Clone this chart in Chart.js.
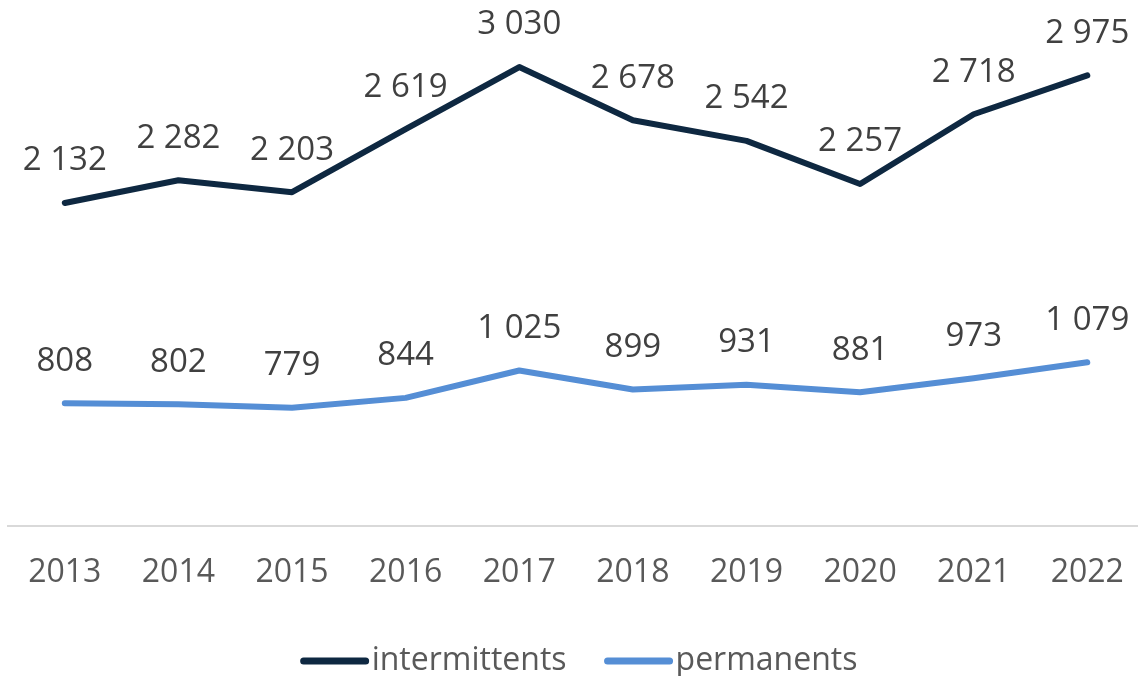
<!DOCTYPE html>
<html>
<head>
<meta charset="utf-8">
<script src="https://cdn.jsdelivr.net/npm/chart.js@4.4.1/dist/chart.umd.min.js"></script>
<style>
  html, body { margin: 0; padding: 0; background: #ffffff; overflow: hidden; }
  #wrap { width: 1152px; height: 676px; }
</style>
</head>
<body>
<div id="wrap"><canvas id="chart"></canvas></div>
<script>
// data
const years         = ['2013', '2014', '2015', '2016', '2017', '2018', '2019', '2020', '2021', '2022'];
const intermittents = [2132, 2282, 2203, 2619, 3030, 2678, 2542, 2257, 2718, 2975];
const permanents    = [808, 802, 779, 844, 1025, 899, 931, 881, 973, 1079];
const seriesNames   = ['intermittents', 'permanents'];

// colors
const navy      = '#0E2841';
const lightBlue = '#558ED5';
const tickColor = '#595959';
const labelColor = '#404040';
const axisColor = '#D9D9D9';

const font = 'Open Sans';

function fmt(v) {
    return String(v).replace(/\B(?=(\d{3})+(?!\d))/g, ' ');
}

// value labels above each point
const valueLabels = {
    id: 'valueLabels',
    afterDatasetsDraw(chart) {
        const ctx = chart.ctx;
        ctx.save();
        ctx.font = '33px "' + font + '"';
        ctx.fillStyle = labelColor;
        ctx.textAlign = 'center';
        ctx.textBaseline = 'middle';
        chart.data.datasets.forEach((ds, i) => {
            chart.getDatasetMeta(i).data.forEach((pt, j) => {
                ctx.fillText(fmt(ds.data[j]), pt.x, pt.y - 42);
            });
        });
        ctx.restore();
    }
};

// legend with line samples at the bottom
const lineLegend = {
    id: 'lineLegend',
    afterDraw(chart) {
        const ctx = chart.ctx;
        ctx.save();
        ctx.font = '32px "' + font + '"';
        const sample = 68, gap = 3, spacing = 38;
        const items = chart.data.datasets.map(ds => ({
            text: ds.label, color: ds.borderColor, w: sample + gap + ctx.measureText(ds.label).width
        }));
        let total = items.reduce((s, it) => s + it.w, 0) + spacing * (items.length - 1);
        let x = (chart.chartArea.left + chart.chartArea.right) / 2 + 3 - total / 2;
        const y = 661;
        items.forEach(it => {
            ctx.strokeStyle = it.color;
            ctx.lineWidth = 7;
            ctx.lineCap = 'round';
            ctx.beginPath();
            ctx.moveTo(x + 3, y);
            ctx.lineTo(x + sample - 3, y);
            ctx.stroke();
            ctx.fillStyle = tickColor;
            ctx.textAlign = 'left';
            ctx.textBaseline = 'middle';
            ctx.fillText(it.text, x + sample + gap, y);
            x += it.w + spacing;
        });
        ctx.restore();
    }
};

const ctx = document.getElementById('chart').getContext('2d');
new Chart(ctx, {
    type: 'line',
    plugins: [valueLabels, lineLegend],
    data: {
        labels: years,
        datasets: [{
            label: seriesNames[0],
            data: intermittents,
            borderColor: navy,
            backgroundColor: navy,
            borderWidth: 6,
            borderCapStyle: 'round',
            borderJoinStyle: 'round',
            pointRadius: 0,
            tension: 0
        }, {
            label: seriesNames[1],
            data: permanents,
            borderColor: lightBlue,
            backgroundColor: lightBlue,
            borderWidth: 6,
            borderCapStyle: 'round',
            borderJoinStyle: 'round',
            pointRadius: 0,
            tension: 0
        }]
    },
    options: {
        responsive: true,
        maintainAspectRatio: false,
        animation: false,
        layout: {
            padding: { left: 8, right: 2, top: 0, bottom: 56 }
        },
        plugins: {
            legend: { display: false },
            tooltip: { enabled: false }
        },
        scales: {
            x: {
                offset: true,
                grid: { display: false, drawTicks: false },
                border: { display: true, color: axisColor, width: 2 },
                ticks: {
                    color: tickColor,
                    padding: 28,
                    maxRotation: 0,
                    font: { family: font, size: 32 }
                }
            },
            y: {
                display: false,
                min: 0,
                max: 3473
            }
        }
    }
});
</script>
</body>
</html>
